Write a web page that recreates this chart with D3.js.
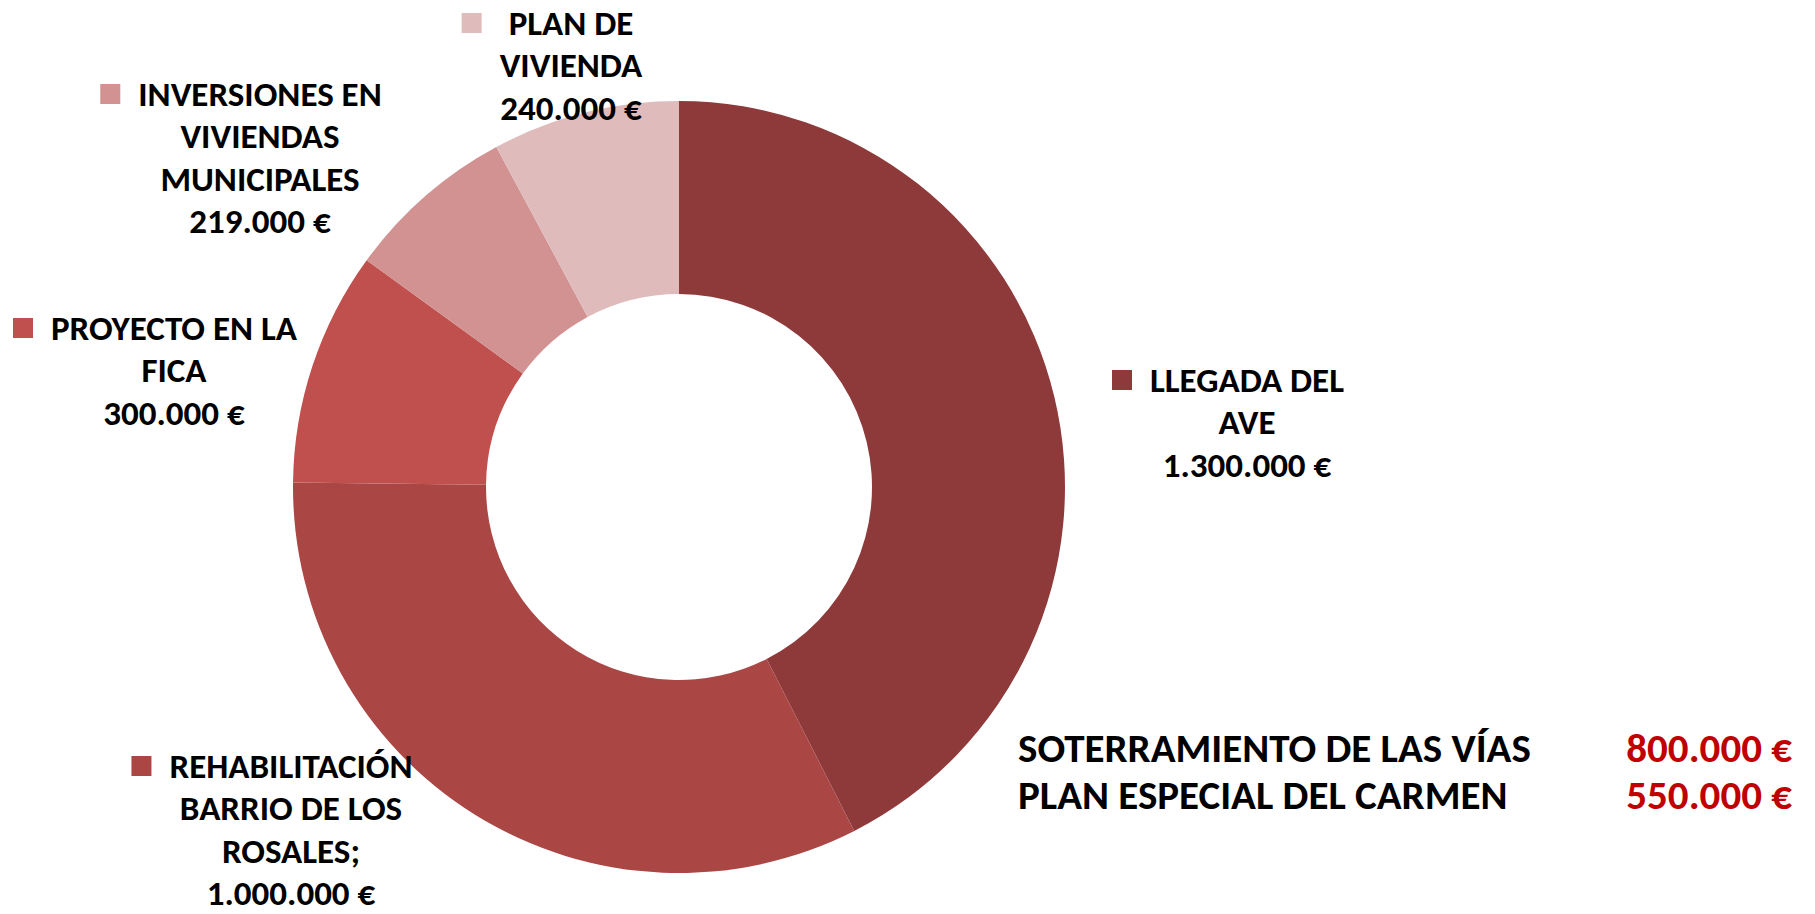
<!DOCTYPE html>
<html lang="es">
<head>
    <meta charset="utf-8">
    <title>Inversiones</title>
    <script src="https://cdn.jsdelivr.net/npm/d3@7"></script>
    <style>
        body { margin: 0; background: #fff; }
        text { font-family: Carlito, Calibri, "Open Sans", sans-serif; font-weight: bold; }
    </style>
</head>
<body>
<svg id="chart" width="1815" height="914"></svg>
<script>
    // datos del anillo (en orden de las agujas del reloj desde arriba)
    var names = [
        ["LLEGADA DEL", "AVE"],
        ["REHABILITACIÓN", "BARRIO DE LOS", "ROSALES;"],
        ["PROYECTO EN LA", "FICA"],
        ["INVERSIONES EN", "VIVIENDAS", "MUNICIPALES"],
        ["PLAN DE", "VIVIENDA"]
    ];
    var values = [1300000, 1000000, 300000, 219000, 240000];
    var colors = ["#8e3a3a", "#aa4745", "#c0504d", "#d19291", "#e0bbbb"];

    // otras partidas (texto abajo a la derecha)
    var extraNames = ["SOTERRAMIENTO DE LAS VÍAS", "PLAN ESPECIAL DEL CARMEN"];
    var extraValues = [800000, 550000];

    // posicion de cada etiqueta: centro del bloque, primera linea base, hueco del cuadro
    var labelPos = [[1247, 392, 18], [291, 778, 18], [174, 340, 18], [260, 106, 18], [571, 35, 27]];

    var es = d3.formatLocale({decimal: ",", thousands: ".", grouping: [3], currency: ["", " €"]});
    var fmt = es.format("$,.0f");

    var cx = 679, cy = 487, outerR = 386, innerR = 193, lineH = 42.3;
    var svg = d3.select("#chart");

    var pie = d3.pie().sort(null).value(function (d) { return d; });
    var arc = d3.arc().innerRadius(innerR).outerRadius(outerR);

    var g = svg.append("g").attr("transform", "translate(" + cx + "," + cy + ")");
    g.selectAll("path").data(pie(values)).enter().append("path")
        .attr("d", arc)
        .attr("fill", function (d, i) { return colors[i]; });

    var labels = svg.selectAll(".lbl").data(values).enter().append("g").attr("class", "lbl");
    labels.each(function (v, i) {
        var lg = d3.select(this);
        var lines = names[i].concat([fmt(v)]);
        var first = null;
        lines.forEach(function (l, j) {
            var t = lg.append("text")
                .attr("x", labelPos[i][0])
                .attr("y", labelPos[i][1] + j * lineH)
                .attr("text-anchor", "middle")
                .style("font-size", "35px")
                .text(l);
            if (j == 0) first = t;
        });
        var w = first.node().getComputedTextLength();
        lg.append("rect")
            .attr("x", labelPos[i][0] - w / 2 - labelPos[i][2] - 20)
            .attr("y", labelPos[i][1] - 22)
            .attr("width", 20).attr("height", 20)
            .attr("fill", colors[i]);
    });

    var extra = svg.append("g");
    extraNames.forEach(function (n, i) {
        extra.append("text").attr("x", 1018).attr("y", 762 + i * 47)
            .style("font-size", "41px").attr("fill", "#000").text(n);
        extra.append("text").attr("x", 1792).attr("y", 762 + i * 47)
            .attr("text-anchor", "end")
            .style("font-size", "41px").attr("fill", "#c00000").text(fmt(extraValues[i]));
    });
</script>
</body>
</html>
